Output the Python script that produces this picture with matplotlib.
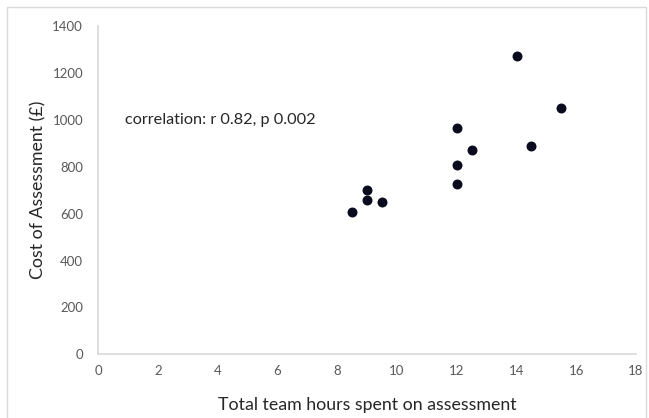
import matplotlib.pyplot as plt
from matplotlib.patches import Rectangle

# hours spent vs cost of assessment
hours = [8.5, 9, 9, 9.5, 12, 12, 12, 12.5, 14, 14.5, 15.5]
cost = [605, 700, 660, 650, 963, 808, 728, 870, 1272, 888, 1052]

x_ticks = [0, 2, 4, 6, 8, 10, 12, 14, 16, 18]
y_ticks = [0, 200, 400, 600, 800, 1000, 1200, 1400]

plt.rcParams['font.family'] = ['Lato', 'DejaVu Sans']

fig = plt.figure(figsize=(6.49, 4.18), dpi=100)
# light outer border of the chart area
fig.patches.append(Rectangle((7 / 649, -0.01), 639 / 649, 1 - 7 / 418 + 0.01,
                             transform=fig.transFigure, fill=False,
                             edgecolor='#d9d9d9', linewidth=1))

ax = fig.add_axes([98.3 / 649, 63.7 / 418, 537.7 / 649, 328.3 / 418])
ax.scatter(hours, cost, s=38, color='#0b0b20', zorder=3)

ax.set_xlim(0, 18)
ax.set_ylim(0, 1400)
ax.set_xticks(x_ticks)
ax.set_yticks(y_ticks)
ax.tick_params(length=0, labelsize=9.5, labelcolor='#595959')
ax.tick_params(axis='x', pad=8)
ax.tick_params(axis='y', pad=11)

for side in ['top', 'right']:
    ax.spines[side].set_visible(False)
for side in ['left', 'bottom']:
    ax.spines[side].set_color('#d9d9d9')
    ax.spines[side].set_linewidth(1.2)

ax.set_xlabel('Total team hours spent on assessment', fontsize=12.8,
              color='#262626', labelpad=14)
ax.set_ylabel('Cost of Assessment (£)', fontsize=12.8, color='#262626',
              labelpad=4)

ax.text(0.9, 1000, 'correlation: r 0.82, p 0.002', fontsize=11.7,
        color='#262626', va='center', ha='left')

fig.savefig('out.png', dpi=100)
